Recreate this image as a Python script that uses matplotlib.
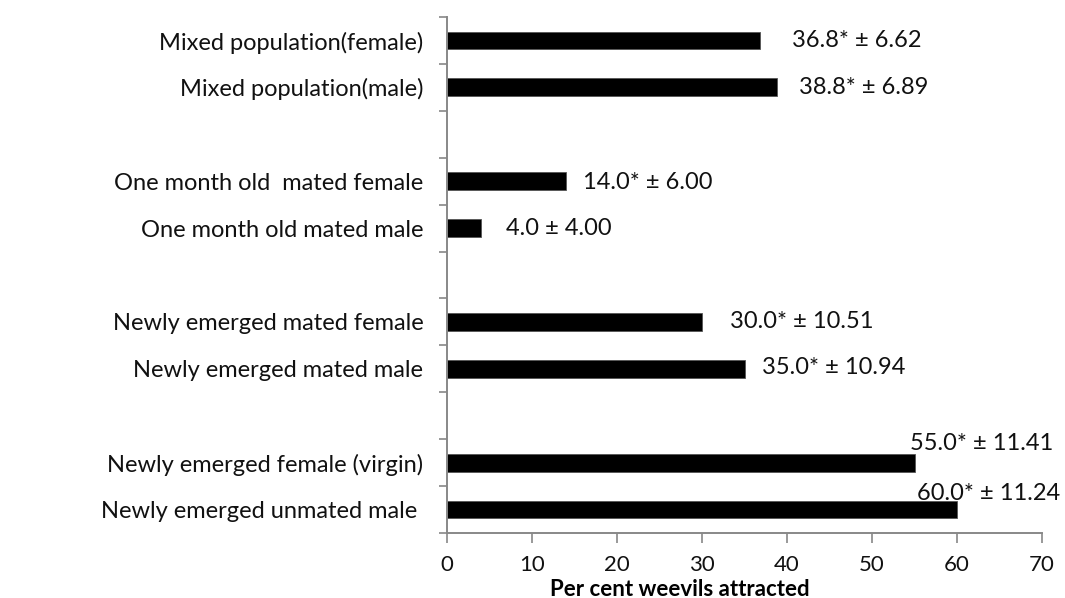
import matplotlib
matplotlib.use("Agg")
import matplotlib.pyplot as plt

categories = [
    "Mixed population(female)",
    "Mixed population(male)",
    "",
    "One month old  mated female",
    "One month old mated male",
    "",
    "Newly emerged mated female",
    "Newly emerged mated male",
    "",
    "Newly emerged female (virgin)",
    "Newly emerged unmated male ",
]
values = [36.8, 38.8, None, 14.0, 4.0, None, 30.0, 35.0, None, 55.0, 60.0]
labels = ["36.8* \u00b1 6.62", "38.8* \u00b1 6.89", "", "14.0* \u00b1 6.00", "4.0 \u00b1 4.00", "",
          "30.0* \u00b1 10.51", "35.0* \u00b1 10.94", "", "55.0* \u00b1 11.41", "60.0* \u00b1 11.24"]
xticks = [0, 10, 20, 30, 40, 50, 60, 70]

# label placement offsets in pixels from the bar end (layout, not data)
label_offsets = [(32, 0), (22, 0), None, (17, -1), (25, 0), None,
                 (28, 0), (18, 1), None, (-5, 19), (-40, 16)]

plt.rcParams['font.family'] = ['Lato', 'DejaVu Sans']

fig = plt.figure(figsize=(10.65, 5.98), dpi=100)
ax = fig.add_axes([447/1065, 1-533/598, (1042-447)/1065, (533-17)/598])

n = len(categories)
ypos = list(range(n))
for i, (v, lab, off) in enumerate(zip(values, labels, label_offsets)):
    if v is None:
        continue
    ax.barh(i, v, height=0.38, color='black', edgecolor='#555555', linewidth=0.6)
    ax.annotate(lab, (v, i), xytext=off, textcoords='offset pixels',
                ha='left', va='center', fontsize=17, color='#111111')

ax.set_ylim(n - 0.5, -0.5)
ax.set_xlim(0, 70)
ax.set_xticks(xticks)
ax.set_xticklabels([str(t) for t in xticks], fontsize=16, color='#111111')

ax.set_yticks([i - 0.5 for i in range(n + 1)])
ax.set_yticklabels([])
ax.set_yticks(ypos, minor=True)
ax.set_yticklabels(categories, minor=True, fontsize=17, color='#111111')
ax.tick_params(axis='y', which='minor', length=0, pad=17)
ax.tick_params(axis='y', which='major', length=6, color='#888888', width=1.2)
ax.tick_params(axis='x', length=7, color='#888888', width=1.2, pad=9)

for s in ['top', 'right']:
    ax.spines[s].set_visible(False)
for s in ['left', 'bottom']:
    ax.spines[s].set_color('#888888')
    ax.spines[s].set_linewidth(1.4)

ax.set_xlabel("Per cent weevils attracted", fontsize=16, fontweight='bold', labelpad=0)
ax.xaxis.label.set_va('center')
ax.xaxis.set_label_coords((680-447)/(1042-447), -(589-533)/516)

fig.savefig("out.png", dpi=100)
